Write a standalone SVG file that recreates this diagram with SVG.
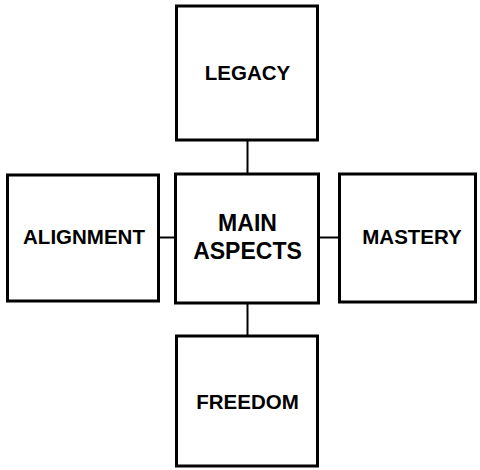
<svg xmlns="http://www.w3.org/2000/svg" width="480" height="470" viewBox="0 0 480 470">
<style>
.box{fill:#fff;stroke:#000;stroke-width:3}
.lbl{font-family:"Liberation Sans",Arial,sans-serif;font-weight:bold;font-size:20.5px;text-anchor:middle;fill:#000}
.main{font-size:23px}
.con{stroke:#000;stroke-width:2;fill:none}
</style>
<rect width="480" height="470" fill="#fff"/>
<g id="connectors">
<line class="con" x1="247.5" y1="140" x2="247.5" y2="174"/>
<line class="con" x1="247.5" y1="303" x2="247.5" y2="336"/>
<line class="con" x1="159" y1="237.5" x2="175" y2="237.5"/>
<line class="con" x1="319" y1="237.5" x2="339" y2="237.5"/>
</g>
<g id="legacy">
<rect class="box" x="176.5" y="6" width="141" height="134"/>
<text class="lbl" x="247.5" y="80">LEGACY</text>
</g>
<g id="main">
<rect class="box" x="175.5" y="174" width="143" height="129"/>
<text class="lbl main" x="247.5" y="231">MAIN</text>
<text class="lbl main" x="247.5" y="259">ASPECTS</text>
</g>
<g id="alignment">
<rect class="box" x="7.5" y="175" width="151" height="126"/>
<text class="lbl" x="84" y="243.5">ALIGNMENT</text>
</g>
<g id="mastery">
<rect class="box" x="339.5" y="174" width="136" height="128"/>
<text class="lbl" x="412" y="243.5">MASTERY</text>
</g>
<g id="freedom">
<rect class="box" x="176.5" y="336" width="141" height="130"/>
<text class="lbl" x="247.5" y="409">FREEDOM</text>
</g>
</svg>
